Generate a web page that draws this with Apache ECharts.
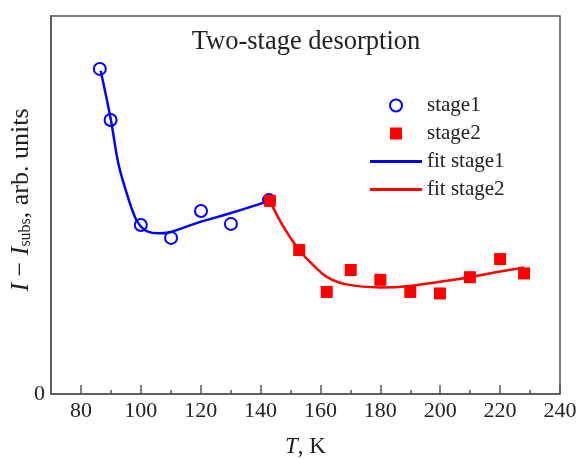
<!DOCTYPE html>
<html>
<head>
<meta charset="utf-8">
<script src="https://cdn.jsdelivr.net/npm/echarts@6/dist/echarts.min.js"></script>
<style>
  html, body { margin: 0; padding: 0; background: #fff; }
  #chart { width: 584px; height: 459px; }
</style>
</head>
<body>
<div id="chart"></div>
<script>
// measured points
var stage1T = [86.3, 89.9, 100.0, 110.1, 120.1, 130.1, 142.8];
var stage1V = [86.0, 72.5, 44.7, 41.3, 48.4, 45.0, 51.3];
var stage2T = [143.1, 152.9, 162.1, 170.1, 180.0, 190.0, 199.9, 209.9, 220.0, 228.0];
var stage2V = [51.1, 38.1, 27.0, 32.8, 30.2, 27.0, 26.6, 30.9, 35.7, 31.9];
// fitted curves
var fit1T = [86.6, 90.0, 92.5, 95.3, 98.0, 99.8, 101.9, 105.8, 109.7, 118.6, 129.8, 142.9];
var fit1V = [85.5, 72.5, 61.0, 53.1, 46.9, 44.5, 43.1, 42.5, 42.8, 45.2, 47.8, 51.1];
var fit2T = [143.1, 147.6, 152.9, 157.6, 162.1, 168.7, 179.9, 189.9, 199.9, 209.9, 220.0, 228.0];
var fit2V = [51.1, 44.3, 38.1, 34.1, 31.0, 29.0, 28.2, 28.6, 29.7, 30.9, 32.4, 33.5];
var majorTicks = [80, 100, 120, 140, 160, 180, 200, 220, 240];
var minorTicks = [90, 110, 130, 150, 170, 190, 210, 230];

function pairs(xs, ys) {
    return xs.map(function (x, i) { return [x, ys[i]]; });
}

var font = 'Liberation Serif';
var txt = '#222';
var lineIcon = 'path://M0,0L52,0L52,3L0,3Z';
var squareIcon = 'path://M0,0L10,0L10,10L0,10Z';

var chart = echarts.init(document.getElementById('chart'));
var option = {
    backgroundColor: '#fff',
    animation: false,
    title: {
        text: 'Two-stage desorption',
        left: 301,
        textAlign: 'center',
        top: 24,
        textStyle: { fontFamily: font, fontSize: 26.5, fontWeight: 'normal', color: txt }
    },
    grid: {
        left: 51, right: 24, top: 16, bottom: 65,
        outerBoundsMode: 'none',
        show: true, borderColor: '#555', borderWidth: 1.5
    },
    legend: {
        orient: 'vertical',
        left: 365,
        top: 90,
        itemWidth: 52,
        itemHeight: 12,
        itemGap: 7,
        symbolKeepAspect: true,
        textStyle: { fontFamily: font, fontSize: 21, color: txt },
        data: [
            { name: 'stage1', icon: 'emptyCircle' },
            { name: 'stage2', icon: squareIcon },
            { name: 'fit stage1', icon: lineIcon },
            { name: 'fit stage2', icon: lineIcon }
        ]
    },
    xAxis: [{
        type: 'value',
        min: 70, max: 240,
        name: '{it|T}, K',
        nameLocation: 'middle',
        nameGap: 41,
        nameTextStyle: {
            fontFamily: font, fontSize: 23, color: txt,
            rich: { it: { fontFamily: font, fontSize: 23, fontStyle: 'italic', color: txt } }
        },
        splitLine: { show: false },
        axisLine: { lineStyle: { color: '#555', width: 1.5 } },
        axisTick: { inside: true, length: 9, customValues: majorTicks, lineStyle: { color: '#555', width: 1.5 } },
        axisLabel: { customValues: majorTicks, margin: 6, fontFamily: font, fontSize: 22, color: txt }
    }, {
        type: 'value',
        min: 70, max: 240,
        position: 'bottom',
        axisLine: { show: false },
        splitLine: { show: false },
        axisTick: { inside: true, length: 4, customValues: minorTicks, lineStyle: { color: '#555', width: 1.5 } },
        axisLabel: { show: false }
    }],
    yAxis: {
        type: 'value',
        min: 0, max: 100,
        name: '{it|I} − {it|I}{sub|subs}, arb. units',
        nameLocation: 'middle',
        nameGap: 17,
        nameMoveOverlap: false,
        nameTextStyle: {
            fontFamily: font, fontSize: 26, color: txt,
            padding: [0, 0, 0, 10],
            rich: {
                it: { fontFamily: font, fontSize: 26, fontStyle: 'italic', color: txt },
                sub: { fontFamily: font, fontSize: 16, color: txt, padding: [10, 0, 0, 0] }
            }
        },
        splitLine: { show: false },
        axisLine: { show: true, lineStyle: { color: '#555', width: 1.5 } },
        axisTick: { show: false },
        axisLabel: { customValues: [0], margin: 6, fontFamily: font, fontSize: 22, color: txt }
    },
    series: [{
        name: 'stage1',
        type: 'scatter',
        symbol: 'emptyCircle',
        symbolSize: 12,
        itemStyle: { color: '#0000ff', borderColor: '#0000ff', borderWidth: 2.5, opacity: 1 },
        data: pairs(stage1T, stage1V),
        z: 3
    }, {
        name: 'stage2',
        type: 'scatter',
        symbol: 'rect',
        symbolSize: 12,
        itemStyle: { color: '#ff0000', opacity: 1 },
        data: pairs(stage2T, stage2V),
        z: 5
    }, {
        name: 'fit stage1',
        type: 'line',
        smooth: 0.4,
        showSymbol: false,
        symbol: 'none',
        lineStyle: { color: '#0000ff', width: 2.5 },
        itemStyle: { color: '#0000ff' },
        data: pairs(fit1T, fit1V),
        z: 4
    }, {
        name: 'fit stage2',
        type: 'line',
        smooth: 0.4,
        showSymbol: false,
        symbol: 'none',
        lineStyle: { color: '#ff0000', width: 2.5 },
        itemStyle: { color: '#ff0000' },
        data: pairs(fit2T, fit2V),
        z: 4
    }]
};
chart.setOption(option);
window.addEventListener('resize', function () { chart.resize(); });
</script>
</body>
</html>
